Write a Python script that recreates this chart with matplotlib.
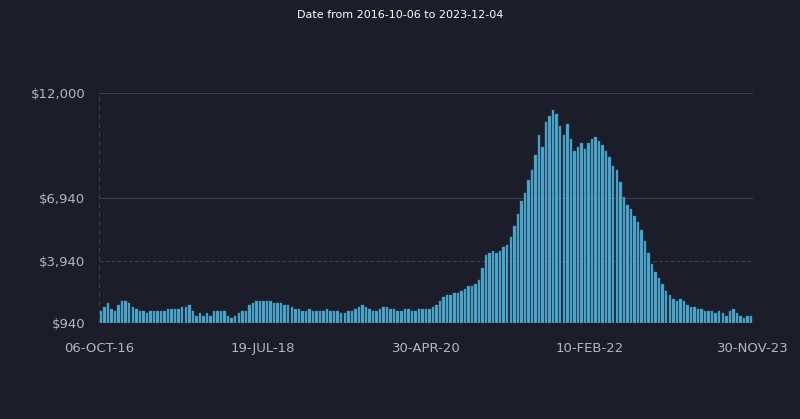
import numpy as np
import matplotlib.pyplot as plt

# weekly-ish price levels, thousands of dollars
early = [1.5,1.7,1.9,1.6,1.5,1.8,2.0,2.0,1.9,1.7,1.6,1.5,1.5,1.4,
	1.5,1.5,1.5,1.5,1.5,1.6,1.6,1.6,1.6,1.7,1.7,1.8,1.5,1.3,1.4,1.3,1.4,1.3,1.5,1.5,1.5,1.5,1.3,1.2,1.3,1.4,1.5,1.5,1.8,1.9,2.0,2.0,2.0]
middle = [2.0,2.0,1.9,1.9,1.9,1.8,1.8,1.7,1.6,1.6,1.5,1.5,1.6,1.5,1.5,1.5,1.5,1.6,1.5,1.5,1.5,1.4,1.4,1.5,1.5,1.6,1.7,1.8,1.7,1.6,1.5,1.5,1.6,1.7,1.7,1.6,1.6,1.5,1.5,1.6,1.6,1.5,1.5,1.6,1.6,1.6]
late = [1.6,1.7,1.8,2.0,2.2,2.3,2.3,2.4,2.4,2.5,2.6,2.7,2.7,2.8,
	3.0,3.6,4.2,4.3,4.4,4.3,4.4,4.6,4.7,5.1,5.6,6.2,6.8,7.2,7.8,8.3,9.0,10.0,9.4,
	10.6,10.9,11.2,11.0,10.4,10.0,10.5,9.8,9.2,9.4,9.6,9.3,9.6,9.8,9.9,9.7,
	9.5,9.2,8.9,8.5,8.3,7.7,7.0,6.6,6.4,6.1,5.8,5.4,4.9,4.3,
	3.8,3.4,3.1,2.8,2.5,2.3,2.1,2.0,2.1,2.0,1.8,1.7,1.7,1.6,1.6,1.5,1.5,1.5,1.4,1.5,1.4,1.3,1.5,1.6,1.4,1.3,1.2,1.3,1.3]
values = np.array(early + middle + late) * 1000
yticks = [940, 3940, 6940, 12000]
ytick_labels = ["$940", "$3,940", "$6,940", "$12,000"]
xtick_labels = ["06-OCT-16", "19-JUL-18", "30-APR-20", "10-FEB-22", "30-NOV-23"]

bg = "#1b1d2a"
fig = plt.figure(figsize=(8, 4.19), dpi=100, facecolor=bg)
ax = fig.add_axes([0.124, 0.229, 0.817, 0.549], facecolor=bg)

n = len(values)
x = np.arange(n)
ax.bar(x, values - 940, bottom=940, width=0.7, color="#4ea6cc", edgecolor="#3b86a8", linewidth=0.3, zorder=2)
ax.set_xlim(-0.5, n - 0.5)
ax.set_ylim(940, 12000)

ax.set_yticks(yticks)
ax.set_yticklabels(ytick_labels)
ax.set_xticks(np.linspace(-0.5, n - 0.5, 5))
ax.set_xticklabels(xtick_labels)
ax.tick_params(colors="#b4b7c2", labelsize=9.5, length=0, pad=14)
ax.tick_params(axis="y", pad=10)
for y, ls in zip(yticks[1:], ["--", "-", "-"]):
	ax.axhline(y, color="#3a3f52", linewidth=0.8, linestyle=ls, zorder=1)
ax.axvline(-0.5, color="#3a3f52", linewidth=0.8, linestyle=(0, (4, 4)), zorder=1)
for s in ax.spines.values():
	s.set_visible(False)

fig.text(0.5, 0.965, "Date from 2016-10-06 to 2023-12-04", color="white", fontsize=8, ha="center", va="center")

plt.savefig("out.png", dpi=100, facecolor=bg)
